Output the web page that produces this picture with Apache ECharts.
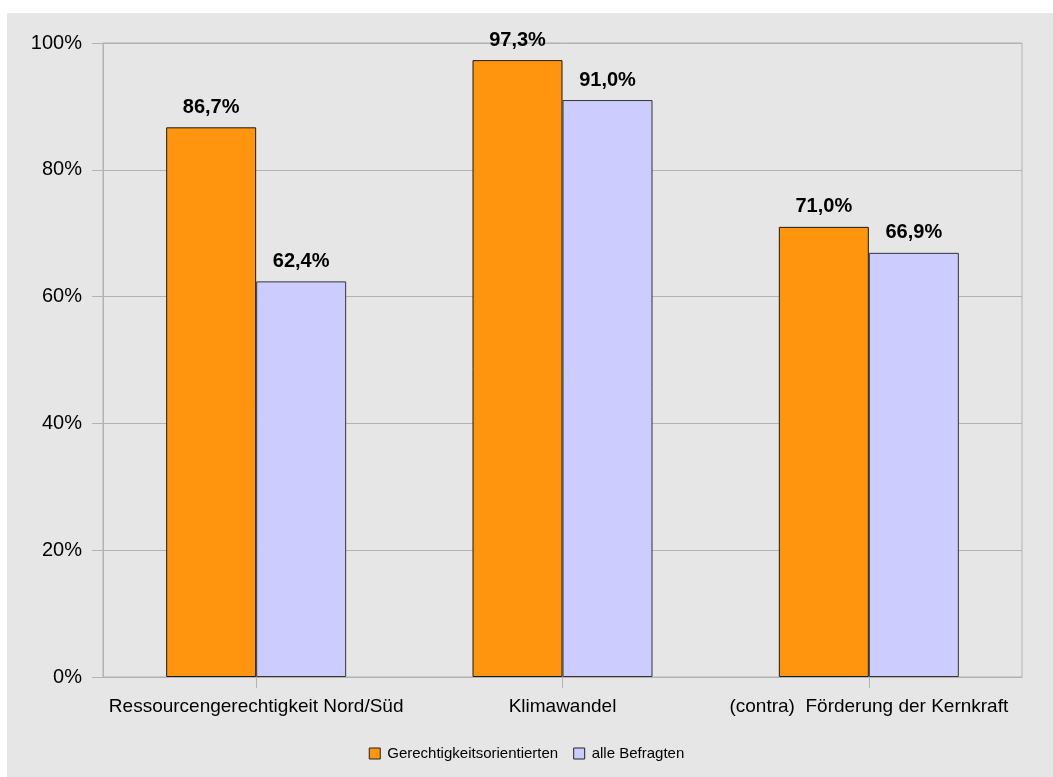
<!DOCTYPE html>
<html>
<head>
<meta charset="utf-8">
<script src="https://cdn.jsdelivr.net/npm/echarts@6/dist/echarts.min.js"></script>
<style>
  html, body { margin: 0; padding: 0; background: #ffffff; }
  #chart { width: 1053px; height: 777px; }
</style>
</head>
<body>
<div id="chart"></div>
<script>
// Survey shares per topic, two respondent groups
const categories = ['Ressourcengerechtigkeit Nord/Süd', 'Klimawandel', '(contra)  Förderung der Kernkraft'];
const seriesNames = ['Gerechtigkeitsorientierten', 'alle Befragten'];
const gerechtigkeitsorientierte = [86.7, 97.3, 71.0];
const alleBefragten = [62.4, 91.0, 66.9];
const yTicks = [0, 20, 40, 60, 80, 100];

const FONT = '"Liberation Sans", Arial, sans-serif';
const fmtPct = v => v.toFixed(1).replace('.', ',') + '%';

const chart = echarts.init(document.getElementById('chart'), null, { renderer: 'canvas' });

const barLabel = {
  show: true,
  position: 'top',
  distance: 10,
  color: '#000',
  fontFamily: FONT,
  fontWeight: 'bold',
  fontSize: 20,
  formatter: p => fmtPct(p.value)
};

chart.setOption({
  animation: false,
  backgroundColor: '#ffffff',
  graphic: [{
    type: 'rect',
    z: -10,
    silent: true,
    shape: { x: 7, y: 13, width: 1046, height: 764 },
    style: { fill: '#e6e6e6' }
  }],
  grid: {
    left: 103, right: 31, top: 43, bottom: 100,
    show: true,
    borderColor: '#b3b3b3',
    borderWidth: 1,
    backgroundColor: 'transparent'
  },
  legend: {
    data: seriesNames,
    top: 741,
    left: 'center',
    itemWidth: 11,
    itemHeight: 11,
    itemGap: 15,
    icon: 'rect',
    textStyle: { fontFamily: FONT, fontSize: 15, color: '#000', padding: [0, 0, 0, 2] },
    itemStyle: { borderColor: '#222', borderWidth: 1 }
  },
  xAxis: {
    type: 'category',
    data: categories,
    axisLine: { show: true, lineStyle: { color: '#b3b3b3', width: 1 } },
    axisTick: { show: true, alignWithLabel: true, length: 11, lineStyle: { color: '#b3b3b3' } },
    axisLabel: { margin: 20, color: '#000', fontFamily: FONT, fontSize: 19, interval: 0 },
    splitLine: { show: false }
  },
  yAxis: {
    type: 'value',
    min: yTicks[0],
    max: yTicks[yTicks.length - 1],
    interval: yTicks[1] - yTicks[0],
    axisLine: { show: true, lineStyle: { color: '#b3b3b3', width: 1 } },
    axisTick: { show: true, length: 11, lineStyle: { color: '#b3b3b3' } },
    axisLabel: { margin: 21, color: '#000', fontFamily: FONT, fontSize: 20, formatter: '{value}%' },
    splitLine: { show: true, lineStyle: { color: '#b3b3b3', width: 1 } }
  },
  series: [
    {
      name: seriesNames[0],
      type: 'bar',
      data: gerechtigkeitsorientierte,
      barWidth: 90,
      barGap: '0%',
      itemStyle: { color: '#ff950e', borderColor: '#1a1a1a', borderWidth: 1 },
      label: barLabel
    },
    {
      name: seriesNames[1],
      type: 'bar',
      data: alleBefragten,
      barWidth: 90,
      barGap: '0%',
      itemStyle: { color: '#ccccff', borderColor: '#333333', borderWidth: 1 },
      label: barLabel
    }
  ]
});
</script>
</body>
</html>
